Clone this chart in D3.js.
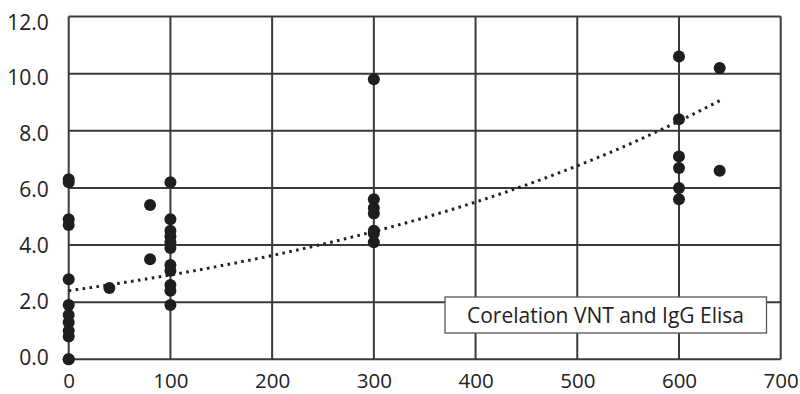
<!DOCTYPE html>
<html><head><meta charset="utf-8">
<script src="https://cdn.jsdelivr.net/npm/d3@7"></script>
<style>body{margin:0;background:#fff}svg{display:block}</style>
</head><body>
<svg id="c" width="800" height="394"></svg>
<script>
const xs = [0,0,0,0,0,0,0,0,0,0,0,0, 40, 80,80, 100,100,100,100,100,100,100,100,100,100,100, 300,300,300,300,300,300,300, 600,600,600,600,600,600, 640,640];
const ys = [6.3,6.2,4.9,4.7,2.8,1.9,1.55,1.3,1.0,0.8,0.0, 0.0, 2.5, 5.4,3.5, 6.2,4.9,4.5,4.3,4.1,3.9,3.3,3.1,2.6,2.4,1.9, 9.8,5.6,5.3,5.1,4.5,4.4,4.1, 10.6,8.4,7.1,6.7,6.0,5.6, 10.2,6.6];
const xTicks = [0,100,200,300,400,500,600,700];
const yTicks = [0,2,4,6,8,10,12];
const trendA = 2.4, trendB = 0.002075, trendRange = [0,640];
const legendLabel = "Corelation VNT and IgG Elisa";

const svg = d3.select("#c");
const L = 68.7, R = 780.7, T = 16.5, B = 359.3;
const x = d3.scaleLinear().domain([0,700]).range([L,R]);
const y = d3.scaleLinear().domain([0,12]).range([B,T]);
const yLab = d3.scaleLinear().domain([0,12]).range([365,29.5]);
const font = "'Open Sans', Lato, sans-serif";
const grid = "#3a3a3a";

const g = svg.append("g");
g.selectAll("line.v").data(xTicks).join("line")
  .attr("x1",d=>x(d)).attr("x2",d=>x(d)).attr("y1",T).attr("y2",B)
  .attr("stroke",grid).attr("stroke-width",2);
g.selectAll("line.h").data(yTicks).join("line")
  .attr("y1",d=>y(d)).attr("y2",d=>y(d)).attr("x1",L).attr("x2",R)
  .attr("stroke",grid).attr("stroke-width",2);

// axes labels
const xa = svg.append("g").attr("transform",`translate(0,${B})`)
  .call(d3.axisBottom(x).tickValues(xTicks).tickSize(0).tickFormat(d3.format("d")));
xa.select(".domain").remove();
xa.selectAll("text").attr("y",29).attr("dy",null)
  .attr("font-family",font).attr("font-size",20.5).attr("fill","#222");
const ya = svg.append("g").attr("transform",`translate(${L},0)`)
  .call(d3.axisLeft(y).tickValues(yTicks).tickSize(0).tickPadding(20).tickFormat(d3.format(".1f")));
ya.select(".domain").remove();
ya.selectAll(".tick").attr("transform",d=>`translate(0,${yLab(d)})`);
ya.selectAll("text").attr("dy",null)
  .attr("font-family",font).attr("font-size",21).attr("fill","#222");

// trend
const tx = d3.range(trendRange[0], trendRange[1]+1, 4);
svg.append("path").datum(tx)
  .attr("d", d3.line().x(d=>x(d)).y(d=>y(trendA*Math.exp(trendB*d))))
  .attr("fill","none").attr("stroke","#222").attr("stroke-width",3)
  .attr("stroke-dasharray","2.6 4.4");

// points
svg.selectAll("circle").data(xs.map((v,i)=>[v,ys[i]])).join("circle")
  .attr("cx",d=>x(d[0])).attr("cy",d=>y(d[1])).attr("r",6).attr("fill","#1e1e1e");

// legend
svg.append("rect").attr("x",445).attr("y",297).attr("width",321.5).attr("height",36)
  .attr("fill","#fff").attr("stroke","#555").attr("stroke-width",1.3);
svg.append("text").attr("x",605.5).attr("y",323).attr("text-anchor","middle")
  .attr("font-family",font).attr("font-size",21).attr("fill","#222").text(legendLabel);
</script>
</body></html>
